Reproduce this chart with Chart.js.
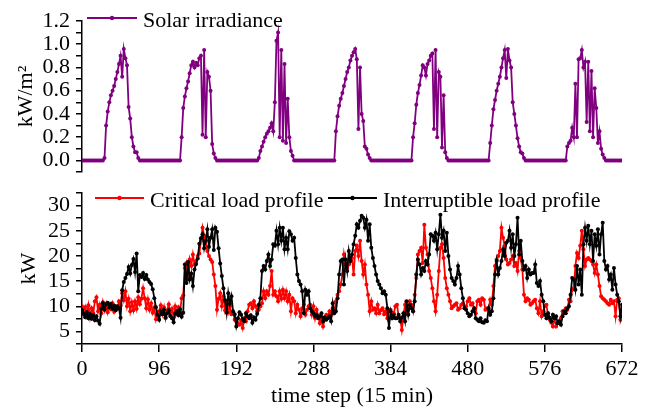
<!DOCTYPE html>
<html>
<head>
<meta charset="utf-8">
<script src="https://cdn.jsdelivr.net/npm/chart.js@4.4.1/dist/chart.umd.min.js"></script>
<style>
  html, body { margin: 0; padding: 0; background: #fff; }
  #wrap { position: relative; width: 654px; height: 409px; }
  #solarChart { position: absolute; left: 0; top: 0; }
  #loadChart { position: absolute; left: 0; top: 180px; }
</style>
</head>
<body>
<div id="wrap">
  <canvas id="solarChart" width="654" height="180"></canvas>
  <canvas id="loadChart" width="654" height="229"></canvas>
</div>
<script>
// one value every 2 time steps (0, 2, ... 672), one line per day
const solar = [
  0,0,0,0,0,0,0,0,0,0,0,0,0,0, 0.02,0.3,0.42,0.5,0.56,0.6,0.64,0.7,0.76,0.83,0.9,0.72,0.96,0.88,0.82,0.46,0.36,0.2,0.12,0.07,0.07,0.02, 0,0,0,0,0,0,0,0,0,0,0,0,
  0,0,0,0,0,0,0,0,0,0,0,0,0,0, 0.2,0.45,0.55,0.62,0.68,0.75,0.82,0.85,0.8,0.84,0.82,0.88,0.9,0.22,0.95,0.2,0.76,0.72,0.6,0.14,0.06,0.02, 0,0,0,0,0,0,0,0,0,0,0,0,
  0,0,0,0,0,0,0,0,0,0,0,0,0,0, 0.02,0.08,0.12,0.16,0.2,0.23,0.25,0.28,0.32,0.25,0.5,1.03,1.1,0.2,0.95,0.17,0.83,0.15,0.53,0.2,0.08,0.04, 0,0,0,0,0,0,0,0,0,0,0,0,
  0,0,0,0,0,0,0,0,0,0,0,0,0,0, 0.25,0.38,0.47,0.53,0.58,0.64,0.7,0.76,0.8,0.86,0.9,0.93,0.96,0.87,0.27,0.8,0.4,0.34,0.12,0.1,0.05,0.02, 0,0,0,0,0,0,0,0,0,0,0,0,
  0,0,0,0,0,0,0,0,0,0,0,0,0,0, 0.2,0.32,0.48,0.58,0.65,0.73,0.82,0.8,0.73,0.83,0.86,0.9,0.92,0.27,0.95,0.2,0.76,0.72,0.11,0.56,0.07,0.02, 0,0,0,0,0,0,0,0,0,0,0,0,
  0,0,0,0,0,0,0,0,0,0,0,0,0,0, 0.15,0.3,0.44,0.52,0.6,0.66,0.72,0.8,0.88,0.95,0.71,0.96,0.86,0.8,0.5,0.4,0.3,0.19,0.12,0.07,0.06,0.02, 0,0,0,0,0,0,0,0,0,0,0,0,
  0,0,0,0,0,0,0,0,0,0,0,0,0,0, 0.12,0.15,0.17,0.28,0.2,0.66,0.2,0.87,0.88,0.95,0.8,0.85,0.33,0.85,0.25,0.77,0.2,0.62,0.45,0.15,0.25,0.1,0.05,0.02, 0,0,0,0,0,0,0,0,0,0,
  0
];

const criticalLoad = [
  10.0,8.5,9.8,8.2,10.2,7.8,9.6,8.6,11.0,11.8,9.0,10.3,8.6,10.8,9.2,10.5,8.8,10.2,9.4,10.6,8.9,10.0,9.5,11.0,10.2,12.6,11.2,13.0,10.0,11.5,9.0,10.8,9.2,11.0,9.5,11.8,10.4,11.5,13.6,11.6,9.6,11.4,9.3,10.6,8.7,9.8,7.4,8.6,
  9.0,10.2,8.4,9.8,7.6,9.2,10.4,8.2,9.5,7.8,10.0,8.6,9.8,8.8,11.6,12.2,17.6,18.6,15.3,19.3,18.0,20.3,18.3,19.0,20.0,20.5,23.0,25.6,24.0,23.0,21.0,20.0,19.3,18.8,16.3,14.0,9.3,11.5,12.6,10.0,12.0,9.2,10.6,8.8,10.0,8.4,8.7,7.3,
  7.0,6.6,6.3,7.2,5.7,7.6,7.0,9.0,10.3,10.6,9.6,11.0,10.0,9.0,9.3,10.0,10.6,13.0,11.6,13.0,12.3,14.0,17.0,12.3,13.0,12.0,11.0,13.0,11.5,13.3,11.6,13.0,11.0,12.3,9.0,11.6,11.0,8.6,10.3,9.3,8.0,9.6,10.3,8.3,9.3,10.0,10.3,8.3,
  10.0,7.6,9.3,8.0,6.6,7.6,6.0,7.4,8.3,7.8,9.0,8.2,9.6,8.8,11.0,12.3,13.0,14.3,16.3,20.3,18.3,17.6,18.3,19.0,19.6,16.3,21.0,22.0,20.0,23.0,19.0,16.3,18.3,14.3,12.3,9.0,11.0,9.3,9.6,8.6,10.3,8.6,9.2,9.6,8.4,9.0,7.6,9.3,
  9.3,8.6,8.6,10.0,10.3,8.0,7.6,5.3,8.0,10.3,8.6,9.3,11.0,10.3,9.0,12.3,15.6,20.3,21.0,21.6,18.6,26.2,21.6,20.3,17.0,15.6,13.6,11.0,9.0,12.3,17.0,21.6,22.3,19.6,15.6,13.6,12.3,11.0,9.6,10.0,10.3,10.6,9.3,9.6,10.3,10.6,9.6,10.0,
  11.0,11.6,10.3,10.6,9.3,8.6,11.0,11.3,10.3,11.6,11.3,9.3,9.6,9.3,11.3,10.3,14.0,18.0,19.3,20.0,21.0,25.6,23.6,22.0,19.3,18.3,18.6,19.3,20.0,18.0,18.6,17.0,21.0,19.6,17.3,12.3,11.0,11.6,11.3,10.3,10.6,11.0,11.3,9.6,8.6,11.0,8.0,9.0,
  10.0,10.3,8.0,7.3,6.7,6.0,7.7,6.0,6.6,7.0,7.6,9.0,8.6,9.6,9.3,11.3,11.0,13.3,13.6,18.0,20.6,19.6,22.0,25.0,21.3,18.0,19.3,19.6,19.3,19.0,18.3,16.6,18.3,16.3,14.0,12.0,11.6,11.3,11.0,10.6,10.3,11.3,10.6,11.0,8.0,11.3,11.6,7.3,
  8.6
];

const interruptibleLoad = [
  9.3,8.5,7.8,8.8,7.6,8.4,7.5,8.2,7.2,8.0,7.1,6.5,9.5,10.6,9.4,10.4,10.7,9.8,10.5,9.5,10.1,9.2,10.0,9.6,7.7,13.2,14.8,15.6,16.4,17.8,16.5,18.2,19.4,16.8,20.5,13.0,16.2,15.8,16.6,15.4,16.2,15.3,14.8,14.4,13.4,11.6,9.8,8.3,
  7.3,9.0,8.4,9.3,7.8,8.6,9.2,8.0,7.6,6.8,8.5,9.0,8.2,9.4,7.9,8.7,18.3,14.6,18.8,15.3,16.5,14.0,17.3,18.4,19.5,22.4,23.5,24.3,21.5,23.0,25.3,21.8,23.6,25.3,21.2,25.6,24.8,21.5,18.5,16.0,13.6,11.2,8.7,12.6,10.5,12.0,9.0,8.4,
  6.0,7.6,8.8,8.3,7.4,7.0,8.6,8.0,7.6,8.2,6.7,7.8,7.3,8.5,10.3,11.6,17.0,18.0,17.3,19.0,20.3,18.0,19.3,22.3,22.0,25.0,22.3,25.6,23.0,25.6,21.3,23.6,21.3,24.9,24.3,23.0,23.6,19.6,16.3,15.0,14.3,13.0,8.6,13.3,12.3,13.0,9.6,9.0,
  8.6,8.0,8.3,7.6,8.0,8.6,7.0,7.8,7.3,7.6,8.0,7.0,10.6,8.6,9.0,11.6,16.3,19.0,19.3,14.3,19.3,17.0,21.0,19.0,20.3,22.3,24.0,26.3,25.6,27.0,28.0,27.6,25.6,27.2,23.0,26.3,21.6,19.6,18.0,16.3,15.0,14.3,13.6,12.6,13.0,12.3,9.6,5.7,
  9.0,7.6,8.3,7.6,7.6,8.3,7.0,7.7,8.6,7.0,11.0,8.3,10.3,9.6,9.0,11.0,16.3,19.3,18.3,16.3,17.6,17.0,19.0,18.3,20.3,24.3,24.0,23.0,24.6,21.3,24.3,28.2,23.6,25.0,21.0,24.6,20.0,17.3,15.6,15.0,14.3,15.6,18.0,16.3,13.6,11.6,9.6,9.3,
  8.6,8.0,8.3,9.0,9.6,7.6,7.3,7.0,7.6,6.8,6.7,7.2,7.0,9.6,8.3,9.0,11.6,16.3,19.0,16.3,17.6,19.0,21.3,20.0,22.6,23.0,25.0,21.6,24.3,20.0,22.3,27.6,20.3,23.0,19.0,17.3,18.0,15.6,17.3,16.3,16.6,16.6,18.3,14.6,14.0,15.0,12.3,11.0,
  8.3,7.6,8.6,7.7,7.0,8.3,7.6,8.0,6.6,7.0,6.3,8.0,9.0,8.6,9.6,10.0,12.3,15.6,15.3,13.3,18.0,14.3,17.3,12.3,22.3,25.6,23.0,26.0,22.3,25.0,19.0,24.3,22.0,25.3,20.3,24.3,26.6,19.0,17.3,18.0,15.3,16.3,13.3,17.6,14.3,12.3,11.0,8.0,
  10.3
];

const timeSteps = solar.map((_, i) => i * 2);
const xTicks = [0, 96, 192, 288, 384, 480, 576, 672];

const FONT = "'Liberation Serif', 'Times New Roman', serif";
Chart.defaults.font.family = FONT;
Chart.defaults.font.size = 22;
Chart.defaults.color = "#000";

const toPoints = (values) => values.map((v, i) => ({ x: timeSteps[i], y: v }));

// legend drawn inside the plot, like the original figure
const inlineLegend = {
  id: "inlineLegend",
  afterDraw(chart, args, opts) {
    const ctx = chart.ctx;
    ctx.save();
    ctx.font = "22px " + FONT;
    ctx.textBaseline = "alphabetic";
    opts.items.forEach((item) => {
      const ds = chart.data.datasets[item.dataset];
      ctx.strokeStyle = ds.borderColor;
      ctx.fillStyle = ds.borderColor;
      ctx.lineWidth = 2;
      ctx.beginPath();
      ctx.moveTo(item.x0, item.y);
      ctx.lineTo(item.x1, item.y);
      ctx.stroke();
      ctx.beginPath();
      ctx.arc((item.x0 + item.x1) / 2, item.y, 2.2, 0, Math.PI * 2);
      ctx.fill();
      ctx.fillStyle = "#000";
      ctx.fillText(ds.label, item.x1 + 6, item.y + 8.5);
    });
    ctx.restore();
  },
};

const axisLine = { display: true, color: "#000", width: 1.5 };
const outerTicks = { drawOnChartArea: false, drawTicks: true, color: "#000", lineWidth: 1.5 };
// fixed left axis; vertical room is set by layout padding only
const fixLeftAxis = (s) => {
  s.width = 82;
  s.paddingTop = 0;
  s.paddingBottom = 0;
};

new Chart(document.getElementById("solarChart"), {
  type: "line",
  data: {
    datasets: [
      {
        label: "Solar irradiance",
        data: toPoints(solar),
        borderColor: "#800080",
        backgroundColor: "#800080",
        borderWidth: 1.8,
        pointRadius: 2,
        pointBorderWidth: 0,
        pointHoverRadius: 0,
      },
    ],
  },
  options: {
    animation: false,
    responsive: false,
    devicePixelRatio: 1,
    layout: { padding: { top: 21, right: 32, bottom: 8, left: 0 } },
    plugins: {
      legend: { display: false },
      tooltip: { enabled: false },
      inlineLegend: { items: [{ dataset: 0, x0: 87, x1: 137, y: 18 }] },
    },
    scales: {
      x: { type: "linear", min: 0, max: 672, display: false },
      y: {
        min: -0.1,
        max: 1.2,
        afterFit: fixLeftAxis,
        border: axisLine,
        grid: { ...outerTicks, tickLength: 6 },
        ticks: {
          stepSize: 0.1,
          autoSkip: false,
          padding: 6,
          callback: (value) => {
            const k = Math.round(value * 10);
            return k >= 0 && k % 2 === 0 ? (k / 10).toFixed(1) : "";
          },
        },
        title: { display: true, text: "kW/m²", padding: { top: 13, bottom: 0 } },
      },
    },
  },
  plugins: [inlineLegend],
});

new Chart(document.getElementById("loadChart"), {
  type: "line",
  data: {
    datasets: [
      {
        label: "Critical load profile",
        data: toPoints(criticalLoad),
        borderColor: "#ff0000",
        backgroundColor: "#ff0000",
        borderWidth: 1.8,
        pointRadius: 2,
        pointBorderWidth: 0,
        pointHoverRadius: 0,
        order: 2,
      },
      {
        label: "Interruptible load profile",
        data: toPoints(interruptibleLoad),
        borderColor: "#000000",
        backgroundColor: "#000000",
        borderWidth: 1.8,
        pointRadius: 2,
        pointBorderWidth: 0,
        pointHoverRadius: 0,
        order: 1,
      },
    ],
  },
  options: {
    animation: false,
    responsive: false,
    devicePixelRatio: 1,
    layout: { padding: { top: 13, right: 32, bottom: 0, left: 0 } },
    plugins: {
      legend: { display: false },
      tooltip: { enabled: false },
      inlineLegend: {
        items: [
          { dataset: 0, x0: 95, x1: 144, y: 18 },
          { dataset: 1, x0: 328, x1: 377, y: 18 },
        ],
      },
    },
    scales: {
      x: {
        type: "linear",
        min: 0,
        max: 672,
        afterFit: (s) => { s.height = 65; },
        afterBuildTicks: (s) => { s.ticks = xTicks.map((v) => ({ value: v })); },
        border: axisLine,
        grid: { ...outerTicks, tickLength: 8 },
        ticks: { autoSkip: false, maxRotation: 0, padding: 4 },
        title: { display: true, text: "time step (15 min)", padding: { top: 0, bottom: 0 } },
      },
      y: {
        min: 2.5,
        max: 32.5,
        afterFit: fixLeftAxis,
        border: axisLine,
        grid: { ...outerTicks, tickLength: 6 },
        ticks: {
          stepSize: 2.5,
          autoSkip: false,
          padding: 6,
          callback: (value) => (value % 5 === 0 && value >= 5 && value <= 30 ? String(value) : ""),
        },
        title: { display: true, text: "kW", padding: { top: 16, bottom: 0 } },
      },
    },
  },
  plugins: [inlineLegend],
});
</script>
</body>
</html>
